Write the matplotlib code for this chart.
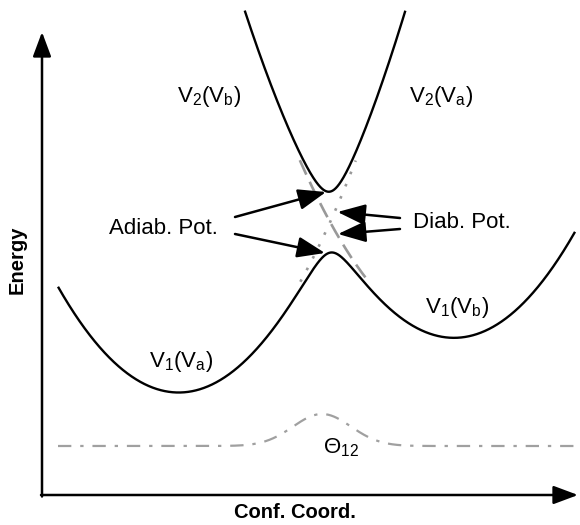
import numpy as np
import matplotlib
matplotlib.use("Agg")
import matplotlib.pyplot as plt

plt.rcParams["font.family"] = ["Liberation Sans", "DejaVu Sans"]
plt.rcParams["mathtext.fontset"] = "custom"
plt.rcParams["mathtext.rm"] = "Liberation Sans"
plt.rcParams["mathtext.it"] = "Liberation Sans:italic"
plt.rcParams["mathtext.bf"] = "Liberation Sans:bold"

# Diabatic harmonic wells (conf. coordinate, energy, force constant)
well_centers = [1.36, 4.13]      # q_a, q_b
well_minima = [1.04, 1.59]       # E_a, E_b
force_const = 0.73
coupling = 0.305                 # electronic coupling between the two states

# Plotted ranges
q_range = [0.16, 5.33]
e_top = 4.85                     # upper adiabat is cut off here
diab_window = [2.13, 3.35]       # energy window where diabats are shown

# Coupling profile Theta_12 along the coordinate
theta_base = 0.49
theta_peak = 0.32
theta_center = 2.80
theta_width = 0.29

q = np.linspace(q_range[0], q_range[1], 2000)
Va = well_minima[0] + force_const * (q - well_centers[0]) ** 2
Vb = well_minima[1] + force_const * (q - well_centers[1]) ** 2
mean = 0.5 * (Va + Vb)
half = np.sqrt((0.5 * (Va - Vb)) ** 2 + coupling ** 2)
V1 = mean - half
V2 = mean + half
theta = theta_base + theta_peak * np.exp(-0.5 * ((q - theta_center) / theta_width) ** 2)

fig = plt.figure(figsize=(5.8, 5.25), dpi=100)
ax = fig.add_axes([0, 0, 1, 1])
ax.set_xlim(-0.42, 5.38)
ax.set_ylim(-0.30, 4.95)
ax.axis("off")

black_lw = 1.7
ax.plot(q, V1, color="black", lw=black_lw, solid_capstyle="butt")
V2m = np.where(V2 <= e_top, V2, np.nan)
ax.plot(q, V2m, color="black", lw=black_lw, solid_capstyle="butt")

# Diabatic continuations near the crossing
near = (q > 2.0) & (q < 4.0)
Va_m = np.where((Va >= diab_window[0]) & (Va <= diab_window[1]) & near, Va, np.nan)
Vb_m = np.where((Vb >= diab_window[0]) & (Vb <= diab_window[1]) & near, Vb, np.nan)
ax.plot(q, Vb_m, color="#999999", lw=1.9, dashes=(6, 3))
ax.plot(q, Va_m, color="#999999", lw=1.9, dashes=(1, 4))

# Theta_12 curve
ax.plot(q, theta, color="#a0a0a0", lw=1.6, dashes=(6, 4, 1.5, 4))

# Coordinate axes
axis_kw = dict(arrowstyle="-|>,head_length=0.75,head_width=0.28", color="black",
               lw=1.8, mutation_scale=20, shrinkA=0, shrinkB=0)
ax.annotate("", xy=(0.0, 4.63), xytext=(0.0, -0.015), arrowprops=axis_kw)
ax.annotate("", xy=(5.36, 0.0), xytext=(-0.01, 0.0), arrowprops=axis_kw)

ax.text(-0.245, 2.35, "Energy", rotation=90, ha="center", va="center",
        fontsize=14.5, fontweight="bold")
ax.text(2.53, -0.17, "Conf. Coord.", ha="center", va="center",
        fontsize=14.5, fontweight="bold")

# Curve labels
lab = dict(ha="center", va="baseline", fontsize=16)
ax.text(1.67, 3.93, r"$\mathrm{V_2(V_b)}$", **lab)
ax.text(3.99, 3.93, r"$\mathrm{V_2(V_a)}$", **lab)
ax.text(1.39, 1.28, r"$\mathrm{V_1(V_a)}$", **lab)
ax.text(4.155, 1.82, r"$\mathrm{V_1(V_b)}$", **lab)
ax.text(2.99, 0.42, r"$\mathrm{Θ_{12}}$", **lab)

# Pointer arrows
ptr = dict(arrowstyle="-|>,head_length=0.85,head_width=0.32", color="black",
           lw=1.8, mutation_scale=20, shrinkA=0, shrinkB=0)
ax.text(1.215, 2.66, "Adiab. Pot.", ha="center", va="center", fontsize=16)
ax.annotate("", xy=(2.84, 3.03), xytext=(1.93, 2.78), arrowprops=ptr)
ax.annotate("", xy=(2.83, 2.42), xytext=(1.93, 2.61), arrowprops=ptr)
ax.text(4.195, 2.72, "Diab. Pot.", ha="center", va="center", fontsize=16)
ax.annotate("", xy=(2.955, 2.83), xytext=(3.58, 2.77), arrowprops=ptr)
ax.annotate("", xy=(2.96, 2.61), xytext=(3.58, 2.66), arrowprops=ptr)

fig.savefig("out.png", dpi=100)
